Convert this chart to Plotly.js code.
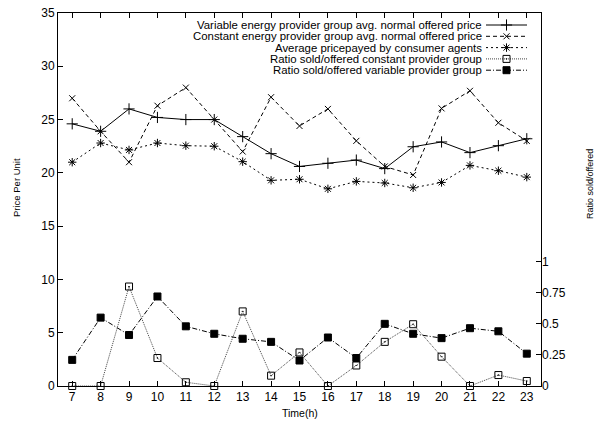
<!DOCTYPE html>
<html>
<head>
<meta charset="utf-8">
<script src="https://cdn.plot.ly/plotly-3.0.1.min.js"></script>
<style>html,body{margin:0;padding:0;background:#fff;}#chart{width:597px;height:422px;}</style>
</head>
<body>
<div id="chart"></div>
<script>
// ---- data ----
var hours = [7, 8, 9, 10, 11, 12, 13, 14, 15, 16, 17, 18, 19, 20, 21, 22, 23];
var variablePrice = [24.6, 23.9, 26.0, 25.2, 25.0, 25.0, 23.4, 21.8, 20.6, 20.9, 21.2, 20.4, 22.45, 22.9, 21.9, 22.55, 23.2];
var constantPrice = [27.0, 23.9, 21.0, 26.3, 28.0, 25.0, 22.0, 27.1, 24.4, 26.0, 23.0, 20.6, 19.8, 26.05, 27.7, 24.7, 23.0];
var avgPaid = [21.0, 22.8, 22.15, 22.8, 22.55, 22.5, 21.05, 19.3, 19.4, 18.5, 19.2, 19.05, 18.6, 19.1, 20.7, 20.2, 19.6];
var ratioConstant = [0, 0, 0.80, 0.225, 0.03, 0, 0.60, 0.083, 0.27, 0, 0.165, 0.355, 0.497, 0.236, 0, 0.088, 0.04];
var ratioVariable = [0.21, 0.55, 0.41, 0.72, 0.48, 0.42, 0.38, 0.355, 0.205, 0.39, 0.225, 0.50, 0.42, 0.385, 0.465, 0.44, 0.26];
var seriesNames = [
  "Variable energy provider group avg. normal offered price",
  "Constant energy provider group avg. normal offered price",
  "Average pricepayed by consumer agents",
  "Ratio sold/offered constant provider group",
  "Ratio sold/offered variable provider group"
];
var priceTicks = [0, 5, 10, 15, 20, 25, 30, 35];
var ratioTicks = [0, 0.25, 0.5, 0.75, 1];
var ratioTickText = ["0", "0.25", "0.5", "0.75", "1"];

// ---- styles ----
var FONT = "Liberation Sans, Arial, Helvetica, sans-serif";
var W = 597, H = 422, L = 58, R = 541, T = 13, B = 386;
function px2x(px) { return (px - L) / (R - L); }
function px2y(py) { return (B - py) / (B - T); }

var styles = [
  {dash: "solid", color: "#000", symbol: "cross-thin-open", size: 8},
  {dash: "4px,3px", color: "#000", symbol: "x-thin-open", size: 6},
  {dash: "2px,3px", color: "#000", symbol: "asterisk-open", size: 7},
  {dash: "1px,1px", color: "#444", symbol: "square-open-dot", size: 7},
  {dash: "5px,2px,1px,2px", color: "#000", symbol: "square", size: 7}
];

function mk(i, x, y, xaxis, yaxis, mode) {
  var s = styles[i];
  return {
    x: x, y: y, xaxis: xaxis, yaxis: yaxis, type: "scatter", mode: mode,
    name: seriesNames[i], showlegend: false, cliponaxis: false, hoverinfo: "skip",
    line: {color: s.color, width: 1, dash: s.dash},
    marker: {symbol: s.symbol, size: s.size, color: "#000", line: {color: "#000", width: 1}}
  };
}

var traces = [
  mk(0, hours, variablePrice, "x", "y", "lines+markers"),
  mk(1, hours, constantPrice, "x", "y", "lines+markers"),
  mk(2, hours, avgPaid, "x", "y", "lines+markers"),
  mk(3, hours, ratioConstant, "x", "y2", "lines+markers"),
  mk(4, hours, ratioVariable, "x", "y2", "lines+markers")
];

// legend samples (gnuplot style: text right-aligned, sample on the right)
var rowY = [25, 36.3, 47.6, 58.9, 70.2];
var annotations = [];
for (var i = 0; i < seriesNames.length; i++) {
  var yy = px2y(rowY[i]);
  traces.push(mk(i, [px2x(486), px2x(527)], [yy, yy], "x2", "y3", "lines"));
  traces.push(mk(i, [px2x(506.5)], [yy], "x2", "y3", "markers"));
  annotations.push({
    xref: "paper", yref: "paper", x: px2x(483.5), y: yy,
    xanchor: "right", yanchor: "middle", showarrow: false, text: seriesNames[i],
    font: {family: FONT, size: 11.4, color: "#000"}
  });
}
annotations.push({
  xref: "paper", yref: "paper", x: px2x(16), y: px2y(188), textangle: -90,
  xanchor: "center", yanchor: "middle", showarrow: false, text: "Price Per Unit",
  font: {family: FONT, size: 9.5, color: "#000"}
});
annotations.push({
  xref: "paper", yref: "paper", x: px2x(590), y: px2y(184), textangle: -90,
  xanchor: "center", yanchor: "middle", showarrow: false, text: "Ratio sold/offered",
  font: {family: FONT, size: 9, color: "#000"}
});
annotations.push({
  xref: "paper", yref: "paper", x: px2x(299.5), y: px2y(413),
  xanchor: "center", yanchor: "middle", showarrow: false, text: "Time(h)",
  font: {family: FONT, size: 10.5, color: "#000"}
});

var layout = {
  width: W, height: H,
  margin: {l: L, r: W - R, t: T, b: H - B, pad: 0},
  paper_bgcolor: "#fff", plot_bgcolor: "#fff",
  font: {family: FONT, size: 12, color: "#000"},
  showlegend: false,
  xaxis: {
    range: [6.5, 23.5], tickvals: hours, ticks: "inside", ticklen: 5, tickcolor: "#000",
    showline: true, linecolor: "#000", linewidth: 1, mirror: "ticks",
    showgrid: false, zeroline: false, tickfont: {family: FONT, size: 12}
  },
  yaxis: {
    range: [0, 35], tickvals: priceTicks, ticks: "inside", ticklen: 5, tickcolor: "#000",
    showline: true, linecolor: "#000", linewidth: 1, mirror: true,
    showgrid: false, zeroline: false, tickfont: {family: FONT, size: 12}
  },
  yaxis2: {
    overlaying: "y", side: "right", anchor: "x", range: [0, 3],
    tickvals: ratioTicks, ticktext: ratioTickText, ticks: "inside", ticklen: 5, tickcolor: "#000",
    showline: false, showgrid: false, zeroline: false, tickfont: {family: FONT, size: 12}
  },
  xaxis2: {overlaying: "x", range: [0, 1], visible: false, fixedrange: true},
  yaxis3: {overlaying: "y", range: [0, 1], visible: false, fixedrange: true},
  annotations: annotations
};

Plotly.newPlot("chart", traces, layout, {staticPlot: true, displayModeBar: false});
</script>
</body>
</html>
